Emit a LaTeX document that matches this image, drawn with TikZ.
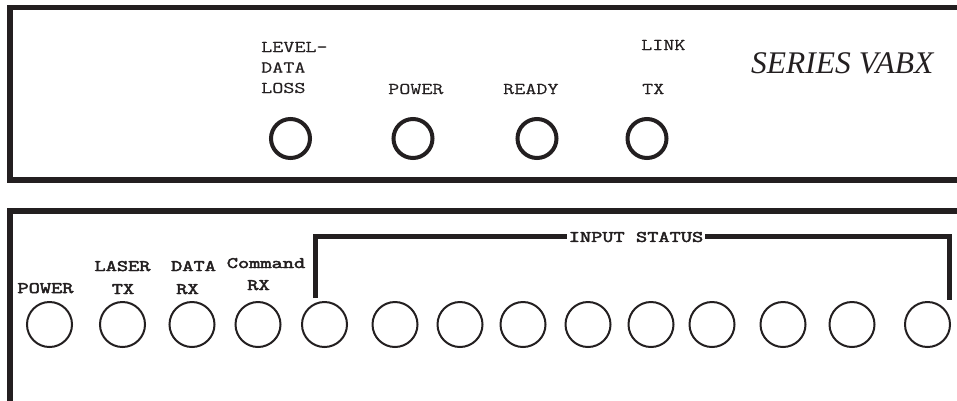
\documentclass[tikz,border=0pt]{standalone}
\usepackage{fontspec}
\setmainfont{Liberation Serif}
\newfontfamily\monof[FakeStretch=1.31,FakeBold=0.4]{Latin Modern Mono}
\newfontfamily\monob[FakeStretch=1.36,FakeBold=3]{Latin Modern Mono}
\definecolor{ink}{HTML}{231F20}
\begin{document}
\begin{tikzpicture}[x=1pt,y=-1pt,
  panel/.style={draw=ink,line width=5.5pt},
  ledtop/.style={circle,draw=ink,line width=4pt,minimum size=39pt,inner sep=0pt},
  ledbot/.style={circle,draw=ink,line width=2pt,minimum size=45pt,inner sep=0pt},
  toplbl/.style={font=\monof\fontsize{16.4}{20.5}\selectfont,text=ink,inner sep=0pt,anchor=base west,align=left},
  botlbl/.style={font=\monob\fontsize{16}{20}\selectfont,text=ink,inner sep=0pt,anchor=base},
  bracket/.style={draw=ink,line width=5pt}]
\useasboundingbox (0,0) rectangle (957,400);
\fill[white] (0,0) rectangle (957,400);
% panels
\draw[panel] (965,7.5) -- (10,7.5) -- (10,180) -- (965,180);
\draw[panel] (965,211) -- (10,211) -- (10,410);
% top LEDs
\node[ledtop] (ledloss) at (290.5,138.5) {};
\node[ledtop] (ledpower) at (413,138.5) {};
\node[ledtop] (ledready) at (537,138.5) {};
\node[ledtop] (ledtx) at (647,138.5) {};
% top labels
\node[toplbl] (tloss) at (261,93) {LEVEL-\\DATA\\LOSS};
\node[toplbl] (tpower) at (388,94) {POWER};
\node[toplbl] (tready) at (503,94) {READY};
\node[toplbl] (tlink) at (641,50) {LINK};
\node[toplbl] (ttx) at (642,94) {TX};
\node[font=\itshape\fontsize{31.5}{36}\selectfont,text=ink,inner sep=0pt,anchor=base west] (series) at (751,73) {SERIES VABX};
% bottom LEDs
\foreach \i/\x in {1/49.5,2/122.5,3/192,4/258,5/324.5,6/395,7/460,8/523,9/588,10/651,11/712,12/783,13/852,14/927.5}
  \node[ledbot] (b\i) at (\x,324.5) {};
% bottom labels
\node[botlbl] (lpower) at (45.5,293) {POWER};
\node[botlbl] (llaser) at (122.5,271) {LASER};
\node[botlbl] (llasertx) at (123,294) {TX};
\node[botlbl] (ldata) at (193.5,271) {DATA};
\node[botlbl] (ldatarx) at (187.5,294) {RX};
\node[botlbl] (lcmd) at (266,268) {Command};
\node[botlbl] (lcmdrx) at (258.5,290) {RX};
% input status bracket
\coordinate (bl) at (315.5,298);
\coordinate (tl) at (315.5,236);
\coordinate (tr) at (949,236);
\coordinate (br) at (949,299.5);
\draw[bracket] (bl) -- (tl) -- (tr) -- (br);
\node[font=\monob\fontsize{16}{20}\selectfont,text=ink,fill=white,inner sep=1.5pt] (instat) at (636,237) {INPUT STATUS};
\end{tikzpicture}
\end{document}
